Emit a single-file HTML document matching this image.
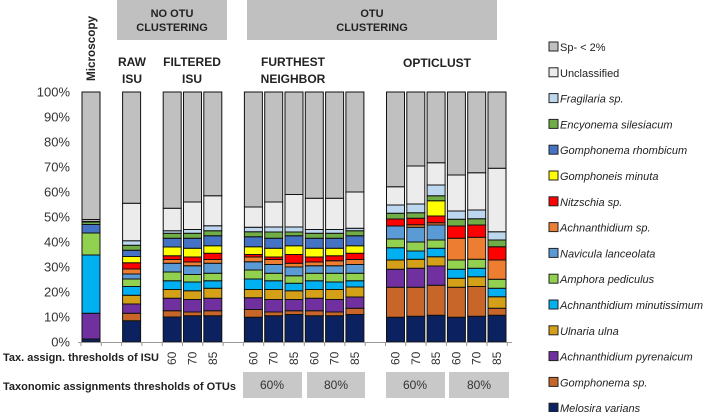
<!DOCTYPE html>
<html><head><meta charset="utf-8"><style>
body{margin:0;background:#fff;width:711px;height:412px;overflow:hidden}
svg{display:block;font-family:"Liberation Sans",sans-serif}
</style></head><body>
<svg id="chart" width="711" height="412">
<g>
<rect x="117" y="0" width="110" height="40" fill="#c0c0c0"/>
<text x="172" y="17" font-size="11" font-weight="bold" text-anchor="middle" fill="#222">NO OTU</text>
<text x="172" y="31" font-size="11" font-weight="bold" text-anchor="middle" fill="#222">CLUSTERING</text>
<rect x="247" y="0" width="250" height="40" fill="#c0c0c0"/>
<text x="372" y="17" font-size="11" font-weight="bold" text-anchor="middle" fill="#222">OTU</text>
<text x="372" y="31" font-size="11" font-weight="bold" text-anchor="middle" fill="#222">CLUSTERING</text>
</g>
<g font-size="12" font-weight="bold" fill="#222" text-anchor="middle">
<text x="132" y="66">RAW</text>
<text x="132" y="83">ISU</text>
<text x="192" y="66">FILTERED</text>
<text x="192" y="83">ISU</text>
<text x="293" y="66">FURTHEST</text>
<text x="293" y="83">NEIGHBOR</text>
<text x="437" y="67">OPTICLUST</text>
<text transform="translate(95,81) rotate(-90)" font-size="12" text-anchor="start" textLength="65" lengthAdjust="spacingAndGlyphs">Microscopy</text>
</g>
<g id="yaxis"></g>
<g id="bars"></g>
<g id="xaxis"></g>
<text x="3" y="361" font-size="11" font-weight="bold" fill="#222" textLength="156" lengthAdjust="spacingAndGlyphs">Tax. assign. thresholds of ISU</text>
<text x="3" y="390" font-size="11" font-weight="bold" fill="#222" textLength="233" lengthAdjust="spacingAndGlyphs">Taxonomic assignments thresholds of OTUs</text>
<g font-size="12" text-anchor="middle" fill="#333">
<rect x="243" y="372" width="59" height="26" fill="#c8c8c8"/><text x="272" y="389">60%</text>
<rect x="307" y="372" width="58" height="26" fill="#c8c8c8"/><text x="336" y="389">80%</text>
<rect x="386" y="372" width="59" height="26" fill="#c8c8c8"/><text x="415" y="389">60%</text>
<rect x="449" y="372" width="60" height="26" fill="#c8c8c8"/><text x="479" y="389">80%</text>
</g>
<g id="legend"></g>
</svg>
<script>
const barLabels=["Microscopy","Raw ISU","F60","F70","F85","FN60a","FN70a","FN85a","FN60b","FN70b","FN85b","OP60a","OP70a","OP85a","OP60b","OP70b","OP85b"];
const tickLabels=["","","60","70","85","60","70","85","60","70","85","60","70","85","60","70","85"];
const species=["Melosira varians","Gomphonema sp.","Achnanthidium pyrenaicum","Ulnaria ulna","Achnanthidium minutissimum","Amphora pediculus","Navicula lanceolata","Achnanthidium sp.","Nitzschia sp.","Gomphoneis minuta","Gomphonema rhombicum","Encyonema silesiacum","Fragilaria sp.","Unclassified","Sp- < 2%"];
const colors=["#0c2260","#c8662a","#7030a0","#d4a017","#00b0f0","#92d050","#5b9bd5","#ed7d31","#ff0000","#ffff00","#4472c4","#70ad47","#bdd7ee","#ececec","#c0c0c0"];
const yTicks=[0,10,20,30,40,50,60,70,80,90,100];
const melosira=[1.2,8.5,10,10.5,10.5,9.9,10.5,11,10.5,10.5,11,9.9,10.3,10.7,9.9,10.3,10.7];
const gomphonemaSp=[0,3,2.5,1.5,2,3.1,1.5,1.5,2,1.5,2.5,12,11.6,12,12,11.9,2.8];
const pyrenaicum=[10.3,3.7,5,5,5,4.7,5,4.5,5,5,4.5,7.2,7.6,7.7,0,0,0];
const ulnaria=[0,3.5,3.5,3.5,4,3.3,4,3.5,3.5,4,4,3.7,3.6,3.7,3.6,3.9,4.6];
const minutissimum=[23.3,3.5,3.5,3.5,3,4.2,3.5,3,3.5,3,2.5,4.9,3.3,3.4,3.6,3.4,3.4];
const amphora=[8.8,3,3.5,3,3,3.6,3,3,3,3.5,3,3.5,3.6,3.3,3.7,3.6,3.6];
const navicula=[0,2,3.5,3.5,4,3.3,3.5,3.5,3,3,3.5,5.2,5.9,6,0,0,0];
const achnanthidiumSp=[0,2,1.5,1.5,1.5,1.9,2,1.5,1.5,2,2,0,1,0.9,8.7,8.8,7.7];
const nitzschia=[0,2.5,1.5,2,2.5,1,1,3.5,2,2,2.5,2.8,2.6,2.7,4.9,4.9,5.3];
const gomphoneis=[0,2.5,3.5,3.5,3,3.1,3.5,3.5,3.5,3,3,0,0,6.1,0,0,0];
const rhombicum=[3.4,2.5,3.5,4,4,4,4,4,4,4,4,0,0,0,0,0,0];
const encyonema=[1,2,2,2,2,2,2.5,1.5,2,2,2,2.3,2.2,2,2.7,2.5,2.7];
const fragilaria=[0.3,1.8,1,1.5,2,1.8,2,2,1.5,1.5,1,3.3,3.5,4.3,3.3,3.5,3.3];
const unclassified=[0.7,15,9,11,12,8.1,10,13,12.5,12.5,14.5,7.3,15.2,8.9,14.4,14.9,25.4];
const series=[melosira,gomphonemaSp,pyrenaicum,ulnaria,minutissimum,amphora,navicula,achnanthidiumSp,nitzschia,gomphoneis,rhombicum,encyonema,fragilaria,unclassified];
const slots=[0,2,4,5,6,8,9,10,11,12,13,15,16,17,18,19,20];
const NS="http://www.w3.org/2000/svg";
const y0=342,yTop=92,barW=18;
function yScale(v){return y0-(v/100)*(y0-yTop);}
function xScale(i){return 82+slots[i]*20.3;}
function mk(tag,attrs,parent){const e=document.createElementNS(NS,tag);for(const k in attrs)e.setAttribute(k,attrs[k]);parent.appendChild(e);return e;}
const ya=document.getElementById('yaxis');
yTicks.forEach(t=>{const tx=mk('text',{x:70,y:yScale(t)+4.5,'font-size':13,'text-anchor':'end',fill:'#333'},ya);tx.textContent=t+'%';

});
const bars=document.getElementById('bars');
barLabels.forEach((lab,i)=>{
  const g=mk('g',{},bars);
  
  
  let cum=0;const x=xScale(i);
  series.forEach((s,k)=>{const v=s[i];if(v<=0){return;}
    const r=mk('rect',{x:x,y:yScale(cum+v),width:barW,height:yScale(cum)-yScale(cum+v),fill:colors[k],stroke:'#111','stroke-width':1},g);
    
    
    cum+=v;});
  const r=mk('rect',{x:x,y:yScale(100),width:barW,height:yScale(cum)-yScale(100),fill:colors[14],stroke:'#111','stroke-width':1},g);
  
  
});
const xa=document.getElementById('xaxis');
mk('line',{x1:78,y1:y0+0.5,x2:512,y2:y0+0.5,stroke:'#999','stroke-width':1},xa);
for(let k=0;k<=21;k++){const xx=81+k*20.3;mk('line',{x1:xx,y1:y0,x2:xx,y2:y0+4,stroke:'#999','stroke-width':1},xa);}
tickLabels.forEach((t,i)=>{if(!t)return;const cx=xScale(i)+barW/2+4;
  const tx=mk('text',{transform:`translate(${cx},365) rotate(-90)`,'font-size':12,fill:'#333'},xa);tx.textContent=t;
  
  });
const lg=document.getElementById('legend');
for(let k=0;k<15;k++){const idx=14-k;const y=47+k*25.8;
  const g=mk('g',{},lg);
  
  
  mk('rect',{x:549,y:y-5,width:9,height:9,fill:colors[idx],stroke:'#222','stroke-width':1},g);
  const tx=mk('text',{x:560,y:y+4,'font-size':11,fill:'#222','font-style':idx>=13?'normal':'italic'},g);tx.textContent=species[idx];}
</script>
</body></html>
